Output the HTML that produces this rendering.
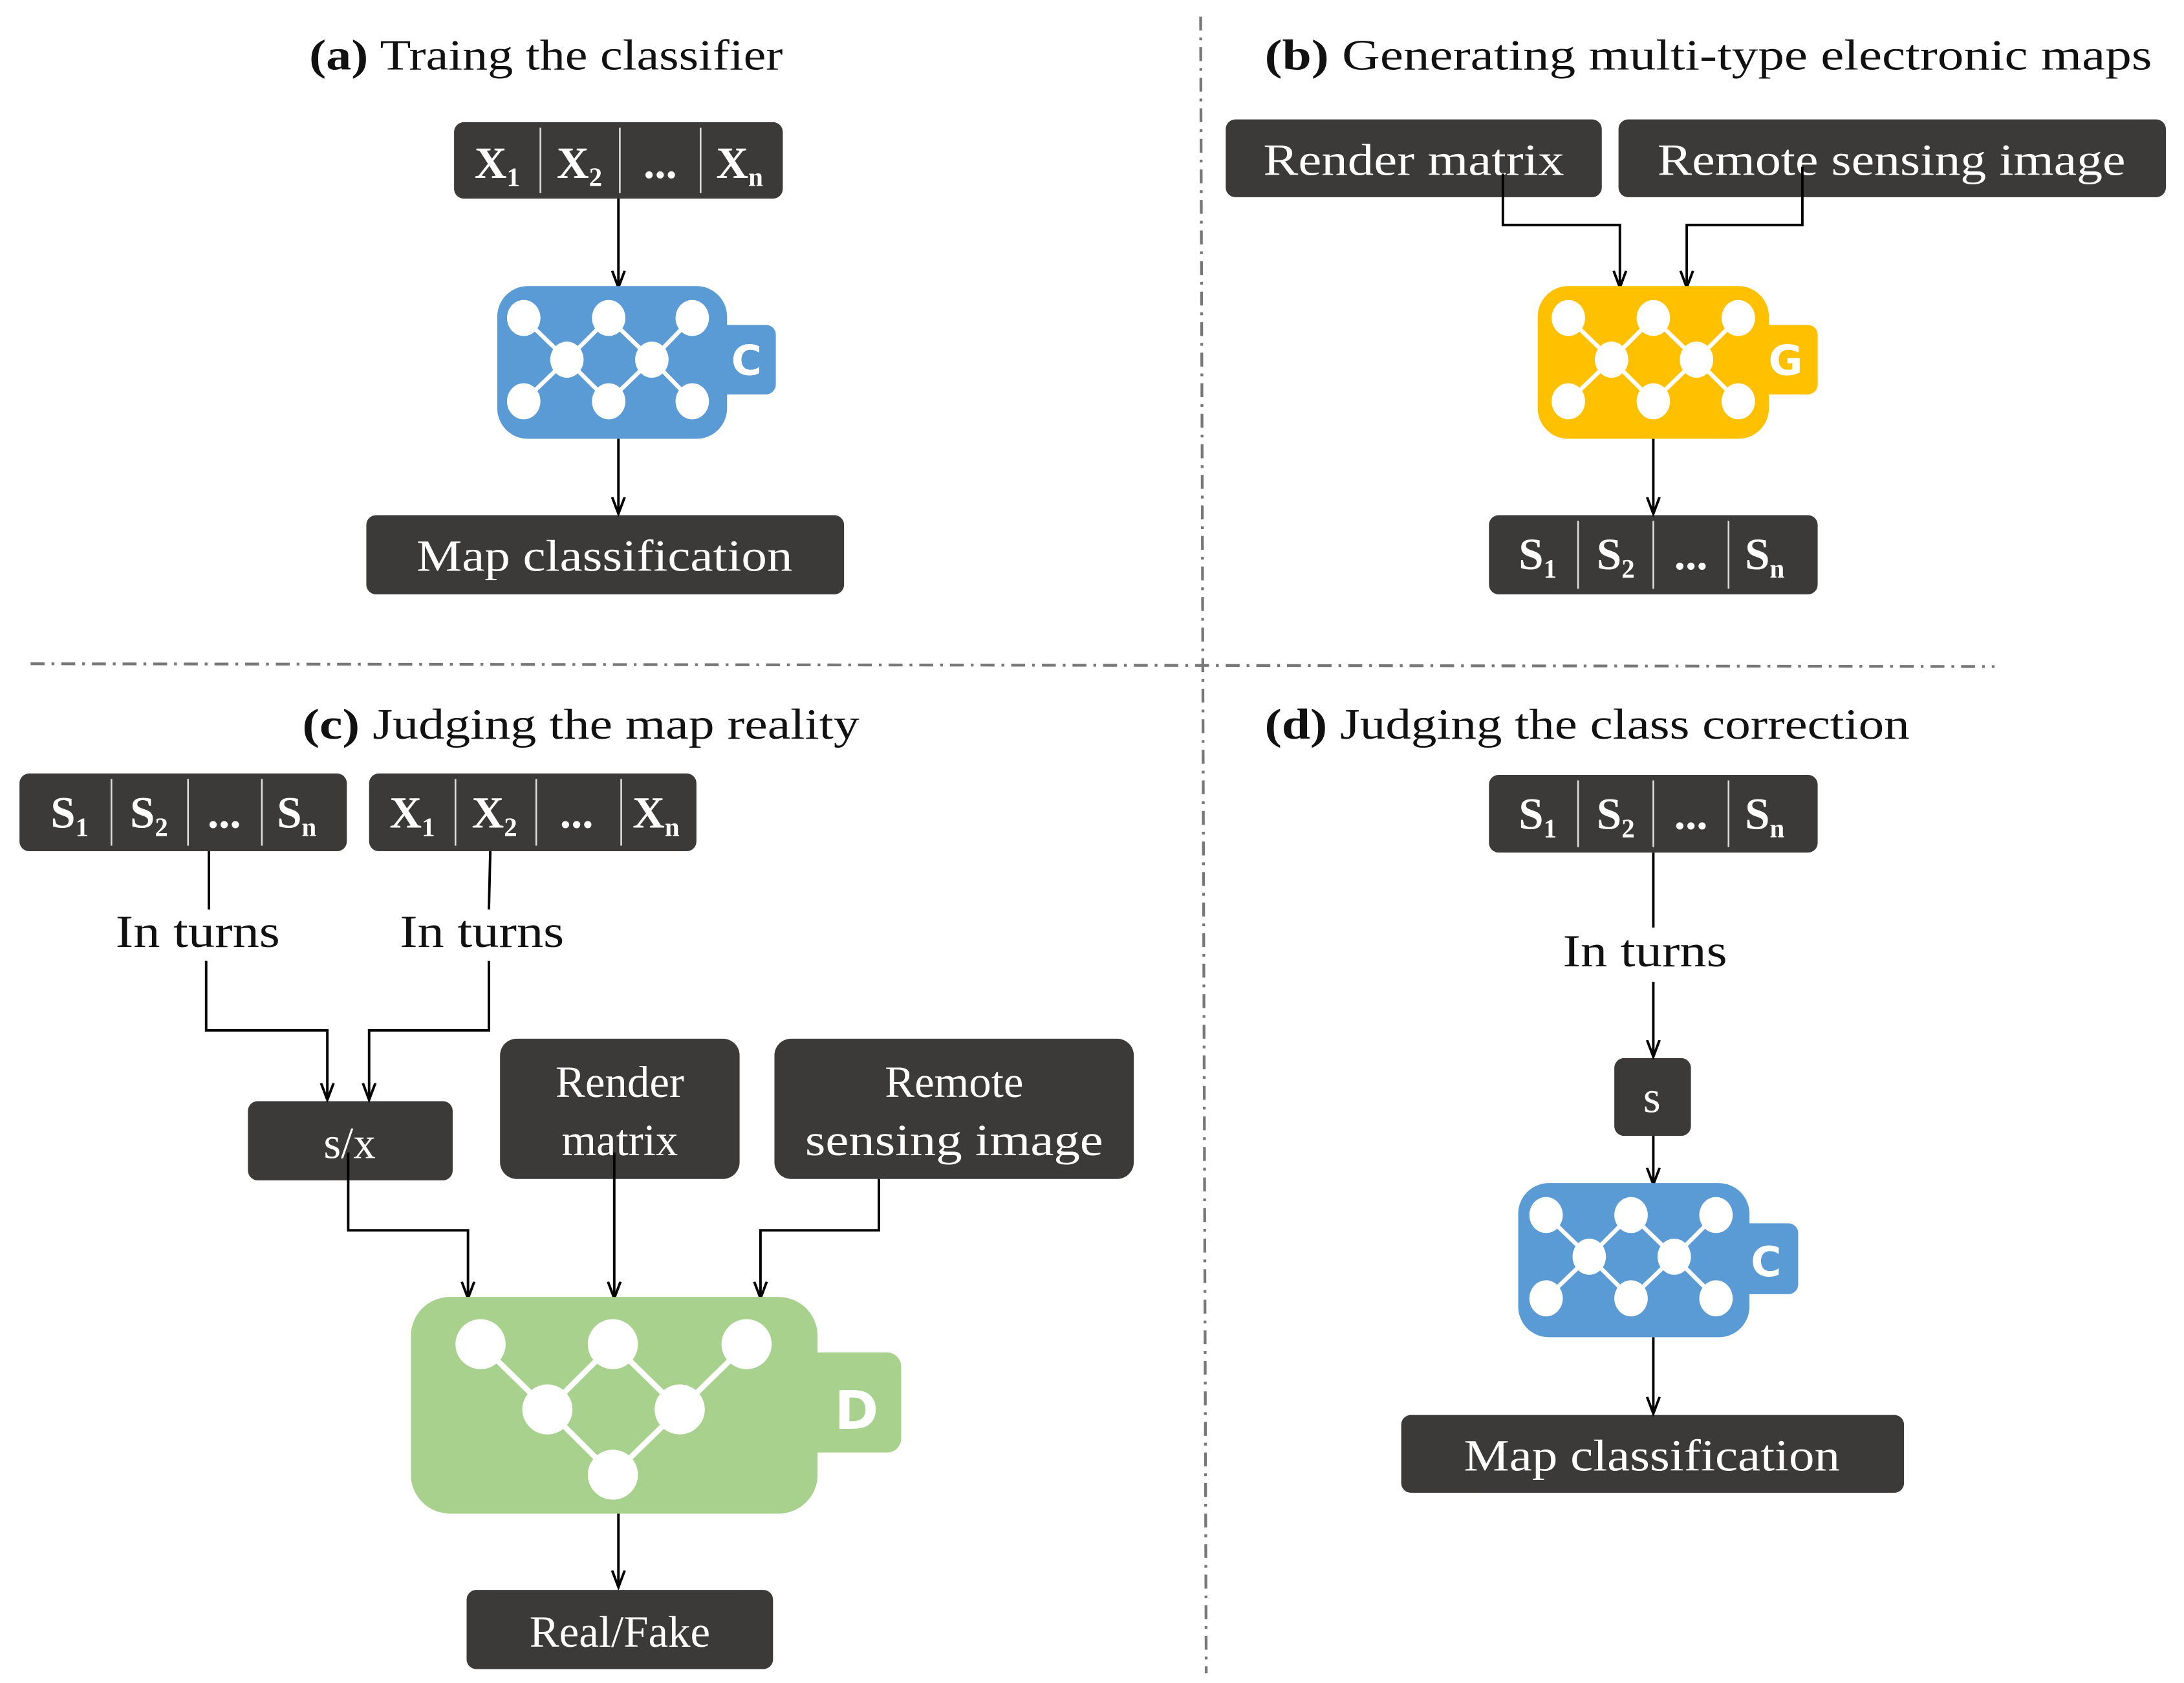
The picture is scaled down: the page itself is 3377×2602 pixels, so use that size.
<!DOCTYPE html>
<html><head><meta charset="utf-8"><style>html,body{margin:0;padding:0;background:#fff}svg{display:block}</style></head><body>
<svg width="3377" height="2602" viewBox="0 0 1568 1212" preserveAspectRatio="none" xmlns="http://www.w3.org/2000/svg" font-family="'Liberation Serif', serif">
<defs>
<marker id="ar" markerWidth="14" markerHeight="12" refX="12" refY="6" orient="auto" markerUnits="userSpaceOnUse">
<path d="M0,1.5 L12,6 L0,10.5" fill="none" stroke="#000" stroke-width="1.8"/>
</marker>
</defs>
<!-- separators -->
<line x1="862" y1="12" x2="866" y2="1205" stroke="#777" stroke-width="2" stroke-dasharray="10,5,2,5"/>
<line x1="22" y1="478" x2="1432" y2="480" stroke="#777" stroke-width="2" stroke-dasharray="10,5,2,5"/>

<g font-size="31" fill="#111">
<text x="222" y="50" textLength="340" lengthAdjust="spacingAndGlyphs"><tspan font-weight="bold">(a)</tspan> Traing the classifier</text>
<text x="908" y="50" textLength="637" lengthAdjust="spacingAndGlyphs"><tspan font-weight="bold">(b)</tspan> Generating  multi-type electronic maps</text>
<text x="217" y="532" textLength="400" lengthAdjust="spacingAndGlyphs"><tspan font-weight="bold">(c)</tspan> Judging the map reality</text>
<text x="908" y="532" textLength="463" lengthAdjust="spacingAndGlyphs"><tspan font-weight="bold">(d)</tspan> Judging the class correction</text>
</g>

<g fill="#3b3a39">
<rect x="326" y="88" width="236" height="55" rx="7"/>
<rect x="263" y="371" width="343" height="57" rx="7"/>
<rect x="880" y="86" width="270" height="56" rx="7"/>
<rect x="1162" y="86" width="393" height="56" rx="7"/>
<rect x="1069" y="371" width="236" height="57" rx="7"/>
<rect x="14" y="557" width="235" height="56" rx="7"/>
<rect x="265" y="557" width="235" height="56" rx="7"/>
<rect x="178" y="793" width="147" height="57" rx="7"/>
<rect x="359" y="748" width="172" height="101" rx="12"/>
<rect x="556" y="748" width="258" height="101" rx="12"/>
<rect x="335" y="1145" width="220" height="57" rx="7"/>
<rect x="1069" y="558" width="236" height="56" rx="7"/>
<rect x="1159" y="762" width="55" height="56" rx="7"/>
<rect x="1006" y="1019" width="361" height="56" rx="7"/>
</g>

<g stroke="#ddd" stroke-width="1.2">
<line x1="388" y1="92" x2="388" y2="139"/><line x1="445" y1="92" x2="445" y2="139"/><line x1="503" y1="92" x2="503" y2="139"/>
<line x1="1133" y1="375" x2="1133" y2="424"/><line x1="1187" y1="375" x2="1187" y2="424"/><line x1="1241" y1="375" x2="1241" y2="424"/>
<line x1="80" y1="561" x2="80" y2="609"/><line x1="135" y1="561" x2="135" y2="609"/><line x1="188" y1="561" x2="188" y2="609"/>
<line x1="327" y1="561" x2="327" y2="609"/><line x1="385" y1="561" x2="385" y2="609"/><line x1="446" y1="561" x2="446" y2="609"/>
<line x1="1133" y1="562" x2="1133" y2="610"/><line x1="1187" y1="562" x2="1187" y2="610"/><line x1="1241" y1="562" x2="1241" y2="610"/>
</g>

<g fill="#fff" font-weight="bold" font-size="32" text-anchor="middle">
<g transform="translate(0,128)"><text x="357">X<tspan font-size="19" dy="6">1</tspan></text><text x="416">X<tspan font-size="19" dy="6">2</tspan></text><text x="474">...</text><text x="531">X<tspan font-size="19" dy="6">n</tspan></text></g>
<g transform="translate(0,410)"><text x="1104">S<tspan font-size="19" dy="6">1</tspan></text><text x="1160">S<tspan font-size="19" dy="6">2</tspan></text><text x="1214">...</text><text x="1267">S<tspan font-size="19" dy="6">n</tspan></text></g>
<g transform="translate(0,596)"><text x="50">S<tspan font-size="19" dy="6">1</tspan></text><text x="107">S<tspan font-size="19" dy="6">2</tspan></text><text x="161">...</text><text x="213">S<tspan font-size="19" dy="6">n</tspan></text></g>
<g transform="translate(0,596)"><text x="296">X<tspan font-size="19" dy="6">1</tspan></text><text x="355">X<tspan font-size="19" dy="6">2</tspan></text><text x="414">...</text><text x="471">X<tspan font-size="19" dy="6">n</tspan></text></g>
<g transform="translate(0,597)"><text x="1104">S<tspan font-size="19" dy="6">1</tspan></text><text x="1160">S<tspan font-size="19" dy="6">2</tspan></text><text x="1214">...</text><text x="1267">S<tspan font-size="19" dy="6">n</tspan></text></g>
</g>

<g fill="#fff" font-size="32" text-anchor="middle">
<text x="434" y="411" textLength="270" lengthAdjust="spacingAndGlyphs">Map classification</text>
<text x="1015" y="126" textLength="216" lengthAdjust="spacingAndGlyphs">Render matrix</text>
<text x="1358" y="126" textLength="336" lengthAdjust="spacingAndGlyphs">Remote sensing image</text>
<text x="251" y="834">s/x</text>
<text x="445" y="790">Render</text>
<text x="445" y="832">matrix</text>
<text x="685" y="790">Remote</text>
<text x="685" y="832" textLength="214" lengthAdjust="spacingAndGlyphs">sensing image</text>
<text x="445" y="1186">Real/Fake</text>
<text x="1186" y="801">s</text>
<text x="1186" y="1059" textLength="270" lengthAdjust="spacingAndGlyphs">Map classification</text>
</g>

<g fill="#111" font-size="33" text-anchor="middle">
<text x="142" y="682" textLength="118" lengthAdjust="spacingAndGlyphs">In turns</text>
<text x="346" y="682" textLength="118" lengthAdjust="spacingAndGlyphs">In turns</text>
<text x="1181" y="696" textLength="118" lengthAdjust="spacingAndGlyphs">In turns</text>
</g>

<g stroke="#000" stroke-width="1.8" fill="none">
<line x1="444" y1="143" x2="444" y2="207" marker-end="url(#ar)"/>
<line x1="444" y1="316" x2="444" y2="370" marker-end="url(#ar)"/>
<polyline points="1079,125 1079,162 1163,162 1163,207" marker-end="url(#ar)"/>
<polyline points="1294,120 1294,162 1211,162 1211,207" marker-end="url(#ar)"/>
<line x1="1187" y1="316" x2="1187" y2="370" marker-end="url(#ar)"/>
<line x1="150" y1="613" x2="150" y2="655"/>
<polyline points="148,692 148,742 235,742 235,792" marker-end="url(#ar)"/>
<line x1="352" y1="613" x2="351" y2="655"/>
<polyline points="351,692 351,742 265,742 265,792" marker-end="url(#ar)"/>
<polyline points="250,830 250,886 336,886 336,935" marker-end="url(#ar)"/>
<line x1="441" y1="830" x2="441" y2="935" marker-end="url(#ar)"/>
<polyline points="631,849 631,886 546,886 546,935" marker-end="url(#ar)"/>
<line x1="444" y1="1090" x2="444" y2="1143" marker-end="url(#ar)"/>
<line x1="1187" y1="614" x2="1187" y2="668"/>
<line x1="1187" y1="707" x2="1187" y2="761" marker-end="url(#ar)"/>
<line x1="1187" y1="818" x2="1187" y2="853" marker-end="url(#ar)"/>
<line x1="1187" y1="963" x2="1187" y2="1018" marker-end="url(#ar)"/>
</g>

<g>
<rect x="357" y="206" width="165" height="110" rx="22" fill="#5B9BD5"/>
<rect x="510" y="234" width="47" height="50" rx="7" fill="#5B9BD5"/>
<g stroke="#fff" stroke-width="3"><polyline points="376,229 407,259 437,229 468,259 497,229" fill="none"/><polyline points="376,289 407,259 437,289 468,259 497,289" fill="none"/></g>
<g fill="#fff"><ellipse cx="376" cy="229" rx="12" ry="13"/><ellipse cx="437" cy="229" rx="12" ry="13"/><ellipse cx="497" cy="229" rx="12" ry="13"/><ellipse cx="407" cy="259" rx="12" ry="13"/><ellipse cx="468" cy="259" rx="12" ry="13"/><ellipse cx="376" cy="289" rx="12" ry="13"/><ellipse cx="437" cy="289" rx="12" ry="13"/><ellipse cx="497" cy="289" rx="12" ry="13"/></g>
<text x="536" y="270" fill="#fff" font-family="'DejaVu Sans', sans-serif" font-weight="bold" font-size="30" text-anchor="middle">C</text>
</g>
<g>
<rect x="1104" y="206" width="166" height="110" rx="22" fill="#FFC000"/>
<rect x="1258" y="234" width="47" height="50" rx="7" fill="#FFC000"/>
<g stroke="#fff" stroke-width="3" fill="none"><polyline points="1126,229 1157,259 1187,229 1218,259 1248,229"/><polyline points="1126,289 1157,259 1187,289 1218,259 1248,289"/></g>
<g fill="#fff"><ellipse cx="1126" cy="229" rx="12" ry="13"/><ellipse cx="1187" cy="229" rx="12" ry="13"/><ellipse cx="1248" cy="229" rx="12" ry="13"/><ellipse cx="1157" cy="259" rx="12" ry="13"/><ellipse cx="1218" cy="259" rx="12" ry="13"/><ellipse cx="1126" cy="289" rx="12" ry="13"/><ellipse cx="1187" cy="289" rx="12" ry="13"/><ellipse cx="1248" cy="289" rx="12" ry="13"/></g>
<text x="1282" y="270" fill="#fff" font-family="'DejaVu Sans', sans-serif" font-weight="bold" font-size="30" text-anchor="middle">G</text>
</g>
<g>
<rect x="1090" y="852" width="166" height="111" rx="22" fill="#5B9BD5"/>
<rect x="1244" y="881" width="47" height="51" rx="7" fill="#5B9BD5"/>
<g stroke="#fff" stroke-width="3" fill="none"><polyline points="1110,875 1141,905 1171,875 1202,905 1232,875"/><polyline points="1110,935 1141,905 1171,935 1202,905 1232,935"/></g>
<g fill="#fff"><ellipse cx="1110" cy="875" rx="12" ry="13"/><ellipse cx="1171" cy="875" rx="12" ry="13"/><ellipse cx="1232" cy="875" rx="12" ry="13"/><ellipse cx="1141" cy="905" rx="12" ry="13"/><ellipse cx="1202" cy="905" rx="12" ry="13"/><ellipse cx="1110" cy="935" rx="12" ry="13"/><ellipse cx="1171" cy="935" rx="12" ry="13"/><ellipse cx="1232" cy="935" rx="12" ry="13"/></g>
<text x="1268" y="919" fill="#fff" font-family="'DejaVu Sans', sans-serif" font-weight="bold" font-size="30" text-anchor="middle">C</text>
</g>
<g>
<rect x="295" y="934" width="292" height="156" rx="28" fill="#A9D18E"/>
<rect x="570" y="974" width="77" height="72" rx="10" fill="#A9D18E"/>
<g stroke="#fff" stroke-width="4" fill="none"><polyline points="345,968 393,1015 440,968 488,1015 536,968"/><polyline points="393,1015 440,1062 488,1015"/></g>
<g fill="#fff"><circle cx="345" cy="968" r="18"/><circle cx="440" cy="968" r="18"/><circle cx="536" cy="968" r="18"/><circle cx="393" cy="1015" r="18"/><circle cx="488" cy="1015" r="18"/><circle cx="440" cy="1062" r="18"/></g>
<text x="615" y="1029" fill="#fff" font-family="'DejaVu Sans', sans-serif" font-weight="bold" font-size="38" text-anchor="middle">D</text>
</g>
</svg>
</body></html>
